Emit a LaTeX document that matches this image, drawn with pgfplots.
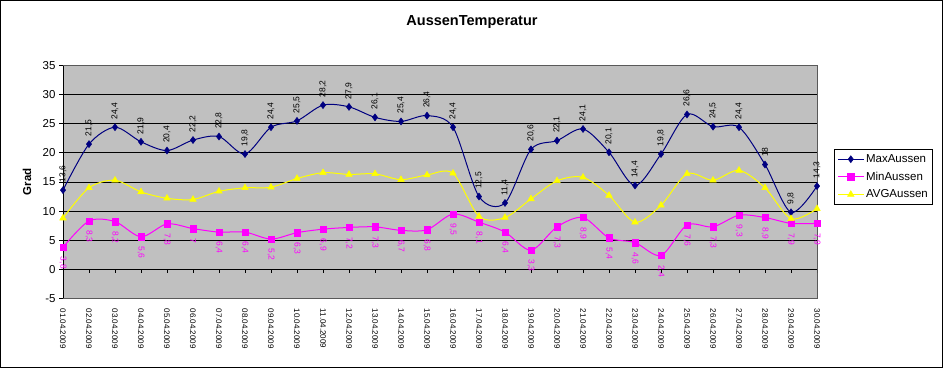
\documentclass[border=0pt]{standalone}
\usepackage{fontspec}
\setmainfont{Liberation Sans}
\usepackage{pgfplots}
\pgfplotsset{compat=1.18}
\definecolor{maxc}{HTML}{000080}
\definecolor{minc}{HTML}{FF00FF}
\definecolor{avgc}{HTML}{FFFF00}
\definecolor{plotbg}{HTML}{C0C0C0}
\begin{document}
\begin{tikzpicture}
\draw[black, line width=1bp] (0.5bp,0.5bp) rectangle (942.5bp,367.5bp);
\node[font=\bfseries\fontsize{14.5bp}{16bp}\selectfont] at (472bp,346bp) {AussenTemperatur};
\node[rotate=90, font=\bfseries\fontsize{11.5bp}{13bp}\selectfont] at (27bp,186bp) {Grad};
\begin{axis}[
  at={(63bp,69.5bp)}, anchor=south west,
  scale only axis, width=754bp, height=233bp,
  xmin=1, xmax=30, ymin=-5, ymax=35,
  axis background/.style={fill=plotbg},
  axis line style={draw=gray!70!black, line width=1bp},
  ytick={-5,0,...,35},
  ymajorgrids, grid style={black, line width=1bp},
  tick align=outside, ytick pos=left,
  major tick length=4bp,
  tick style={black, line width=1bp},
  xtick={1,...,30},
  xtick style={draw=none},
  xticklabels={01.04.2009,02.04.2009,03.04.2009,04.04.2009,05.04.2009,06.04.2009,07.04.2009,08.04.2009,09.04.2009,10.04.2009,11.04.2009,12.04.2009,13.04.2009,14.04.2009,15.04.2009,16.04.2009,17.04.2009,18.04.2009,19.04.2009,20.04.2009,21.04.2009,22.04.2009,23.04.2009,24.04.2009,25.04.2009,26.04.2009,27.04.2009,28.04.2009,29.04.2009,30.04.2009},
  xticklabel style={font=\fontsize{8bp}{9bp}\selectfont, yshift=-6bp, rotate=-90, anchor=west, inner sep=0pt},
  yticklabel style={font=\fontsize{11.5bp}{13bp}\selectfont},
  /pgf/number format/assume math mode=true,
  /pgf/number format/use comma,
  legend style={at={(1.0226,0.6416)}, anchor=north west, draw=black, line width=1bp, fill=white,
    font=\fontsize{11.5bp}{13bp}\selectfont, row sep=4bp, inner xsep=3bp, inner ysep=3bp},
  legend cell align=left,
  legend image code/.code={\draw[mark repeat=2,mark phase=2] plot coordinates {(0cm,0cm) (0.45cm,0cm) (0.9cm,0cm)};},
]
\addplot[maxc, line width=1bp, smooth, mark=diamond*, mark size=3.5bp,
  mark options={solid, fill=maxc, draw=maxc, line width=0.5bp},
  nodes near coords,
  every node near coord/.append style={font=\fontsize{8.5bp}{9bp}\selectfont, text=black, yshift=6bp, rotate=90, anchor=west, inner sep=1.5bp}]
coordinates {
(1,13.6) (2,21.5) (3,24.4) (4,21.9) (5,20.4) (6,22.2) (7,22.8) (8,19.8) (9,24.4) (10,25.5)
(11,28.2) (12,27.9) (13,26.1) (14,25.4) (15,26.4) (16,24.4) (17,12.5) (18,11.4) (19,20.6) (20,22.1)
(21,24.1) (22,20.1) (23,14.4) (24,19.8) (25,26.6) (26,24.5) (27,24.4) (28,18) (29,9.8) (30,14.3)
};
\addlegendentry{MaxAussen}
\addplot[minc, line width=1bp, smooth, mark=square*, mark size=3.2bp,
  mark options={solid, fill=minc, draw=minc, line width=0.5bp},
  nodes near coords,
  every node near coord/.append style={font=\fontsize{8.5bp}{9bp}\selectfont, text=minc, yshift=-8bp, rotate=-90, anchor=west, inner sep=1.5bp}]
coordinates {
(1,3.8) (2,8.3) (3,8.2) (4,5.6) (5,7.8) (6,7) (7,6.4) (8,6.4) (9,5.2) (10,6.3)
(11,6.9) (12,7.2) (13,7.3) (14,6.7) (15,6.8) (16,9.5) (17,8.1) (18,6.4) (19,3.3) (20,7.3)
(21,8.9) (22,5.4) (23,4.6) (24,2.4) (25,7.6) (26,7.3) (27,9.3) (28,8.9) (29,7.9) (30,7.9)
};
\addlegendentry{MinAussen}
\addplot[avgc, line width=1bp, smooth, mark=triangle*, mark size=3.8bp,
  mark options={solid, fill=avgc, draw=avgc, line width=0.5bp}]
coordinates {
(1,8.8) (2,14.0) (3,15.3) (4,13.3) (5,12.2) (6,12.0) (7,13.4) (8,14.0) (9,14.1) (10,15.6)
(11,16.6) (12,16.3) (13,16.4) (14,15.4) (15,16.2) (16,16.5) (17,9.1) (18,8.9) (19,12.1) (20,15.2)
(21,15.8) (22,12.7) (23,8.1) (24,11.0) (25,16.4) (26,15.3) (27,17.0) (28,14.0) (29,8.7) (30,10.4)
};
\addlegendentry{AVGAussen}
\pgfplotsinvokeforeach{1,...,30}{\draw[black,line width=1bp] (axis cs:#1,0) -- ++(0pt,-4bp);}
\draw[black, line width=1bp] (rel axis cs:0,0) -- (rel axis cs:0,1);
\end{axis}
\end{tikzpicture}
\end{document}
